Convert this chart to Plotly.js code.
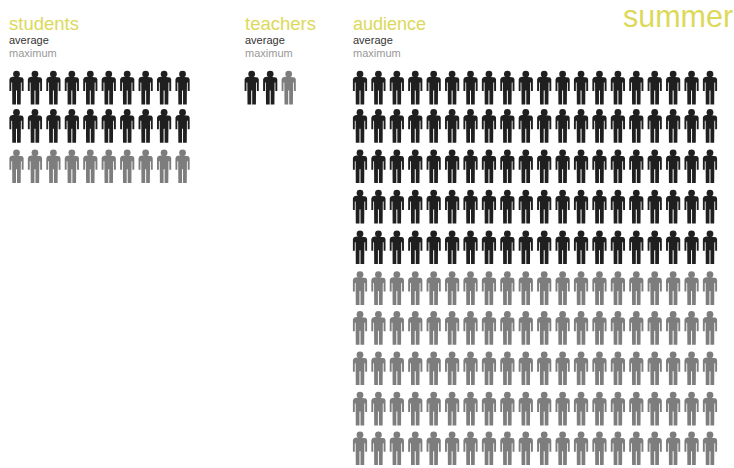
<!DOCTYPE html>
<html>
<head>
<meta charset="utf-8">
<script src="https://cdn.plot.ly/plotly-3.0.1.min.js"></script>
<style>html,body{margin:0;padding:0;background:#fff}#c{width:734px;height:468px}</style>
</head>
<body>
<div id="c"></div>
<script>
// Data
const categories = ["students", "teachers", "audience"];
const averageCounts = [20, 2, 100];
const maximumCounts = [30, 3, 200];
const seasonLabel = "summer";
const averageLabel = "average";
const maximumLabel = "maximum";

// Layout of each group
const perRow = [10, 10, 20];
const startX = [16.5, 251.7, 360];
const pitchX = [18.45, 18.5, 18.42];
const rowTops = [71, 109.3, 149.7, 190, 230.7, 271.5, 311.3, 351.7, 392, 431.7];
const titleX = [9, 245, 353];
const titleSize = [18.5, 18.5, 18];

// Person glyph: right half of the body outline (offsets from centre, head top)
const half = [[0,5.8],[3.8,5.8],[6.1,6.5],[7.1,8.2],[7.1,20],[5.2,20],[5.2,11.5],[4.4,11.5],[4.2,33.4],[0.5,33.4],[0.5,19.5]];
const bodyShape = half.concat(half.slice().reverse().map(p => [-p[0], p[1]]));
const headDy = 3.1;

function place(groupIdx, i) {
  const col = i % perRow[groupIdx], row = Math.floor(i / perRow[groupIdx]);
  return [startX[groupIdx] + col * pitchX[groupIdx], rowTops[row]];
}
function makeTraces(color, from, to) {
  const bx = [], by = [], hx = [], hy = [];
  categories.forEach((_, g) => {
    for (let i = from[g]; i < to[g]; i++) {
      const [x, y] = place(g, i);
      bodyShape.forEach(p => { bx.push(x + p[0]); by.push(y + p[1]); });
      bx.push(null); by.push(null);
      hx.push(x); hy.push(y + headDy);
    }
  });
  return [
    {type:"scatter", mode:"lines", x:bx, y:by, fill:"toself", fillcolor:color, line:{width:0,color:color}, hoverinfo:"skip", connectgaps:false},
    {type:"scatter", mode:"markers", x:hx, y:hy, marker:{symbol:"circle", size:6.8, color:color, line:{width:0}}, hoverinfo:"skip"}
  ];
}
const zeros = categories.map(() => 0);
const traces = makeTraces("#1f1f1f", zeros, averageCounts).concat(makeTraces("#7d7d7d", averageCounts, maximumCounts));

const yellow = "#dcd95a";
const fontFam = "Liberation Sans, Arial, sans-serif";
const annotations = [];
categories.forEach((c, g) => {
  annotations.push({x:titleX[g], y:23.5, text:c, font:{family:fontFam, size:titleSize[g], color:yellow}});
  annotations.push({x:titleX[g], y:40, text:averageLabel, font:{family:fontFam, size:11, color:"#333333"}});
  annotations.push({x:titleX[g], y:53, text:maximumLabel, font:{family:fontFam, size:11, color:"#999999"}});
});
annotations.push({x:623, y:16, text:seasonLabel, font:{family:fontFam, size:30.5, color:yellow}});
annotations.forEach(a => { a.xref="x"; a.yref="y"; a.xanchor="left"; a.yanchor="middle"; a.showarrow=false; a.borderpad=0; a.xshift=-1; });

const layout = {
  width:734, height:468, margin:{l:0,r:0,t:0,b:0,pad:0},
  paper_bgcolor:"#ffffff", plot_bgcolor:"#ffffff", showlegend:false,
  xaxis:{range:[0,734], visible:false, fixedrange:true},
  yaxis:{range:[468,0], visible:false, fixedrange:true},
  annotations:annotations
};
Plotly.newPlot("c", traces, layout, {displayModeBar:false, staticPlot:true});
</script>
</body>
</html>
